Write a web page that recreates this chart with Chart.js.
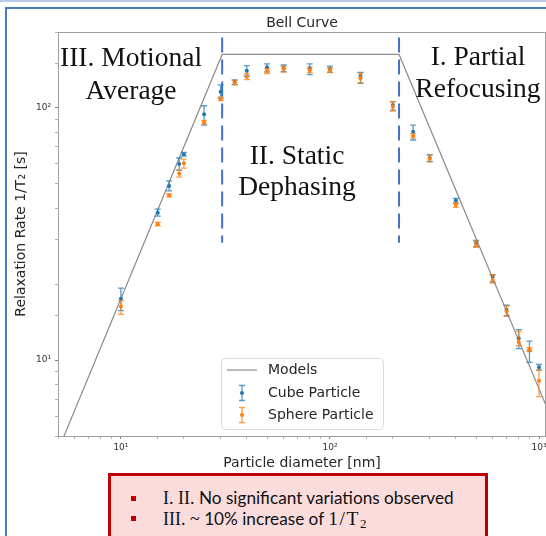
<!DOCTYPE html>
<html>
<head>
<meta charset="utf-8">
<script src="https://cdn.jsdelivr.net/npm/chart.js@4.4.0/dist/chart.umd.min.js"></script>
<style>
  html, body { margin: 0; padding: 0; background: #fff; overflow: hidden; }
  #page { position: relative; width: 546px; height: 536px; overflow: hidden; }
  #chart { position: absolute; left: 0; top: 0; }
  .strip { position: absolute; left: 0; top: 0; width: 546px; height: 2px; background: #b8cbe8; }
  .frameTop { position: absolute; left: 5px; top: 7px; width: 541px; height: 2px; background: #4a7ebb; }
  .frameLeft { position: absolute; left: 5px; top: 7px; width: 2px; height: 529px; background: #4a7ebb; }
  .ann { position: absolute; font-family: "Liberation Serif", serif; font-size: 27.5px; line-height: 1;
         color: #111; white-space: nowrap; text-align: center; width: 200px; }
  #note { position: absolute; left: 108px; top: 473px; width: 380px; height: 80px; box-sizing: border-box;
          border: 3px solid #c00000; background: #fadcdc; }
  .bullet { position: absolute; left: 131px; width: 5px; height: 5px; background: #c00000; }
  .noteLine { position: absolute; left: 163px; font-family: Lato, sans-serif; font-size: 17.2px; line-height: 20px;
              color: #111; white-space: nowrap; }
  .m { font-family: "Liberation Serif", serif; font-size: 18px; }
  .m.r { font-size: 19.5px; letter-spacing: 1.5px; }
  .m sub { font-size: 13px; vertical-align: -3px; }
</style>
</head>
<body>
<div id="page">
  <canvas id="chart" width="550" height="536"></canvas>
  <div class="strip"></div>
  <div class="frameTop"></div>
  <div class="frameLeft"></div>

  <div class="ann" style="left:31px; top:43px;">III. Motional</div>
  <div class="ann" style="left:31px; top:76px;">Average</div>
  <div class="ann" style="left:197px; top:141px;">II. Static</div>
  <div class="ann" style="left:197px; top:172px;">Dephasing</div>
  <div class="ann" style="left:378px; top:42px;">I. Partial</div>
  <div class="ann" style="left:378px; top:74px;">Refocusing</div>

  <div id="note"></div>
  <div class="bullet" style="top:496px;"></div>
  <div class="bullet" style="top:516px;"></div>
  <div class="noteLine" style="top:488px;"><span class="m">I. II.</span> No significant variations observed</div>
  <div class="noteLine" style="top:509px;"><span class="m">III. ~</span> 10% increase of <span class="m r">1/T<sub>2</sub></span></div>
</div>

<script>
"use strict"

  // particle diameters [nm]
  var sizes = [10, 15, 17, 19, 20, 25, 30, 35, 40, 50, 60, 80, 100, 140, 200, 250, 300, 400, 500, 600, 700, 800, 900, 1000];

  // cube particle 1/T2 and error limits
  var cube   = [17.5, 38.4, 49.0, 59.9, 65.5, 94.3, 116, 126.5, 140.5, 144.9, 143.6, 143.6, 142.7, 133.8, 102.7, 80.5, 63.3, 42.9, 29.1, 21.4, 15.8, 12.2, 10.95, 9.36];
  var cubeLo = [15.7, 37.2, 46.9, 56.7, 64.4, 85.5, 109.2, 123.8, 133.8, 139.0, 139.2, 135.4, 138.5, 125.1, 98, 74.6, 61.4, 41.8, 28.2, 20.4, 15.0, 11.1, 9.8, 9.13];
  var cubeHi = [19.3, 39.7, 51.4, 63.3, 66.6, 102.0, 123.3, 129, 147.1, 149.4, 148, 149.4, 146.5, 138.4, 106, 85.5, 65.2, 43.8, 29.8, 21.8, 16.5, 13.2, 11.9, 9.62];

  // sphere particle 1/T2 and error limits
  var sphere   = [16.3, 34.6, 45.0, 55.0, 60.3, 87.7, 108.5, 125.5, 133.0, 140.5, 142.7, 141.0, 141.0, 131.0, 101.1, 77.6, 62.8, 41.2, 28.6, 20.8, 15.6, 11.8, 11.05, 8.29];
  var sphereLo = [15.2, 34.1, 44.3, 53.2, 57.7, 86.2, 107.0, 123.3, 129.4, 136.9, 138.7, 138, 138, 125.9, 97.2, 76.1, 61.0, 40.3, 28.0, 20.2, 14.9, 11.4, 10.8, 7.16];
  var sphereHi = [17.2, 35.2, 45.6, 56.7, 62.7, 89.3, 110.7, 128.9, 136.6, 143.1, 146, 145, 144, 137.2, 105.8, 79.1, 65.0, 42.1, 29.7, 21.8, 16.4, 13.0, 11.2, 9.13];

  // model (motional average / static dephasing / partial refocusing)
  var modelX = [5, 30.5, 214, 1080];
  var modelY = [4.38, 163, 163, 6.6];

  // regime boundaries (dashed lines)
  var boundaryX = [30.5, 214];
  var boundaryY = [190, 29.2];

  var supDigits = { 1: '\u00b9', 2: '\u00b2', 3: '\u00b3' };

  function points(xs, ys) {
    return xs.map(function (x, i) { return { x: x, y: ys[i] }; });
  }

  function isDecade(v) {
    var e = Math.log10(v);
    return Math.abs(e - Math.round(e)) < 1e-9;
  }

  function decadeLabel(v) {
    if (!isDecade(v)) return '';
    return '10' + supDigits[Math.round(Math.log10(v))];
  }

  var blue = '#1f77b4', orange = '#ff7f0e', gray = '#8c8c8c', dashBlue = '#4472c4';

  var errorBars = {
    id: 'errorBars',
    beforeDatasetDraw: function (chart, args) {
      var ds = chart.data.datasets[args.index];
      if (!ds.errLo) return;
      var ctx = chart.ctx, xs = chart.scales.x, ys = chart.scales.y;
      ctx.save();
      ctx.strokeStyle = ds.errColor;
      ctx.lineWidth = 1.3;
      for (var i = 0; i < sizes.length; i++) {
        var px = xs.getPixelForValue(sizes[i]);
        var top = ys.getPixelForValue(ds.errHi[i]);
        var bot = ys.getPixelForValue(ds.errLo[i]);
        ctx.beginPath();
        ctx.moveTo(px, top); ctx.lineTo(px, bot);
        ctx.moveTo(px - 3, top); ctx.lineTo(px + 3, top);
        ctx.moveTo(px - 3, bot); ctx.lineTo(px + 3, bot);
        ctx.stroke();
      }
      ctx.restore();
    }
  };

  // title centred over the axes, top/right spines and the in-axes legend
  var frameAndLegend = {
    id: 'frameAndLegend',
    afterDraw: function (chart) {
      var ctx = chart.ctx, ca = chart.chartArea;
      ctx.save();
      ctx.font = '14px "DejaVu Sans"';
      ctx.fillStyle = '#262626';
      ctx.textAlign = 'center';
      ctx.textBaseline = 'alphabetic';
      ctx.fillText('Bell Curve', (ca.left + ca.right) / 2, ca.top - 5);

      ctx.strokeStyle = '#a0a0a0';
      ctx.lineWidth = 1;
      ctx.beginPath();
      ctx.moveTo(ca.left, ca.top + 0.5); ctx.lineTo(ca.right - 0.5, ca.top + 0.5);
      ctx.lineTo(ca.right - 0.5, ca.bottom);
      ctx.stroke();

      var lx = ca.left + 163, ly = ca.top + 326, lw = 162, lh = 71;
      ctx.fillStyle = 'rgba(255,255,255,0.85)';
      ctx.strokeStyle = '#dcdcdc';
      ctx.beginPath();
      ctx.roundRect(lx + 0.5, ly + 0.5, lw, lh, 4);
      ctx.fill(); ctx.stroke();

      ctx.fillStyle = '#262626';
      ctx.textBaseline = 'middle';
      ctx.textAlign = 'left';

      ctx.strokeStyle = gray; ctx.lineWidth = 1.2;
      ctx.beginPath(); ctx.moveTo(lx + 6, ly + 12); ctx.lineTo(lx + 36, ly + 12); ctx.stroke();
      ctx.fillText('Models', lx + 47, ly + 12);

      var entries = [['Cube Particle', blue, 'rgba(31,119,180,0.75)', ly + 35],
                     ['Sphere Particle', orange, 'rgba(255,127,14,0.75)', ly + 57]];
      entries.forEach(function (e) {
        var cx = lx + 21, cy = e[3];
        ctx.strokeStyle = e[2]; ctx.lineWidth = 1.3;
        ctx.beginPath();
        ctx.moveTo(cx, cy - 7.5); ctx.lineTo(cx, cy + 7.5);
        ctx.moveTo(cx - 3, cy - 7.5); ctx.lineTo(cx + 3, cy - 7.5);
        ctx.moveTo(cx - 3, cy + 7.5); ctx.lineTo(cx + 3, cy + 7.5);
        ctx.stroke();
        ctx.fillStyle = e[1];
        ctx.beginPath(); ctx.arc(cx, cy, 2, 0, Math.PI * 2); ctx.fill();
        ctx.fillStyle = '#262626';
        ctx.fillText(e[0], lx + 47, cy);
      });
      ctx.restore();
    }
  };

  Chart.defaults.font.family = '"DejaVu Sans"';
  Chart.defaults.color = '#262626';

  var bell_curve_config = {
    type: 'scatter',
    data: {
      datasets: [{
        label: 'Models',
        data: points(modelX, modelY),
        showLine: true,
        borderColor: gray,
        borderWidth: 1.2,
        pointRadius: 0,
        order: 4
      }, {
        label: 'boundary left',
        data: points([boundaryX[0], boundaryX[0]], boundaryY),
        showLine: true,
        borderColor: dashBlue,
        borderWidth: 2,
        borderDash: [15, 7],
        pointRadius: 0,
        order: 3
      }, {
        label: 'boundary right',
        data: points([boundaryX[1], boundaryX[1]], boundaryY),
        showLine: true,
        borderColor: dashBlue,
        borderWidth: 2,
        borderDash: [15, 7],
        pointRadius: 0,
        order: 3
      }, {
        label: 'Cube Particle',
        data: points(sizes, cube),
        errLo: cubeLo,
        errHi: cubeHi,
        errColor: 'rgba(31,119,180,0.75)',
        backgroundColor: blue,
        borderWidth: 0,
        pointRadius: 2,
        order: 2
      }, {
        label: 'Sphere Particle',
        data: points(sizes, sphere),
        errLo: sphereLo,
        errHi: sphereHi,
        errColor: 'rgba(255,127,14,0.75)',
        backgroundColor: orange,
        borderWidth: 0,
        pointRadius: 2,
        order: 1
      }]
    },
    options: {
      responsive: false,
      animation: false,
      devicePixelRatio: 1,
      layout: { padding: { left: 0, right: 0, top: 32, bottom: 60 } },
      plugins: {
        legend: { display: false },
        tooltip: { enabled: false },
        title: { display: false }
      },
      scales: {
        x: {
          type: 'logarithmic',
          min: 5,
          max: 1080,
          afterFit: function (scale) { scale.height = 40; scale.paddingLeft = 0; scale.paddingRight = 0; },
          grid: { drawOnChartArea: false, drawTicks: true, tickLength: 3,
                  tickColor: function (c) { return isDecade(c.tick.value) ? '#808080' : '#b0b0b0'; } },
          border: { color: '#a0a0a0' },
          ticks: { autoSkip: false, maxRotation: 0, padding: 3, font: { size: 9 }, color: '#333',
                   callback: function (v) { return decadeLabel(v); } },
          title: { display: true, text: 'Particle diameter [nm]', font: { size: 14 },
                   padding: { top: 0, bottom: 4.6 } }
        },
        y: {
          type: 'logarithmic',
          min: 5,
          max: 200,
          afterFit: function (scale) { scale.width = 58; scale.paddingTop = 0; scale.paddingBottom = 0; },
          grid: { drawOnChartArea: false, drawTicks: true, tickLength: 3,
                  tickColor: function (c) { return isDecade(c.tick.value) ? '#808080' : '#b0b0b0'; } },
          border: { color: '#a0a0a0' },
          ticks: { autoSkip: false, padding: 4, font: { size: 9 }, color: '#333',
                   callback: function (v) { return decadeLabel(v); } },
          title: { display: true, text: 'Relaxation Rate 1/T\u2082 [s]', font: { size: 14 },
                   padding: { top: 12.6, bottom: 0 } }
        }
      }
    },
    plugins: [errorBars, frameAndLegend]
  };

  var bell_ctx = document.getElementById('chart').getContext('2d');
  var bell_chart = new Chart(bell_ctx, bell_curve_config);
</script>
</body>
</html>
